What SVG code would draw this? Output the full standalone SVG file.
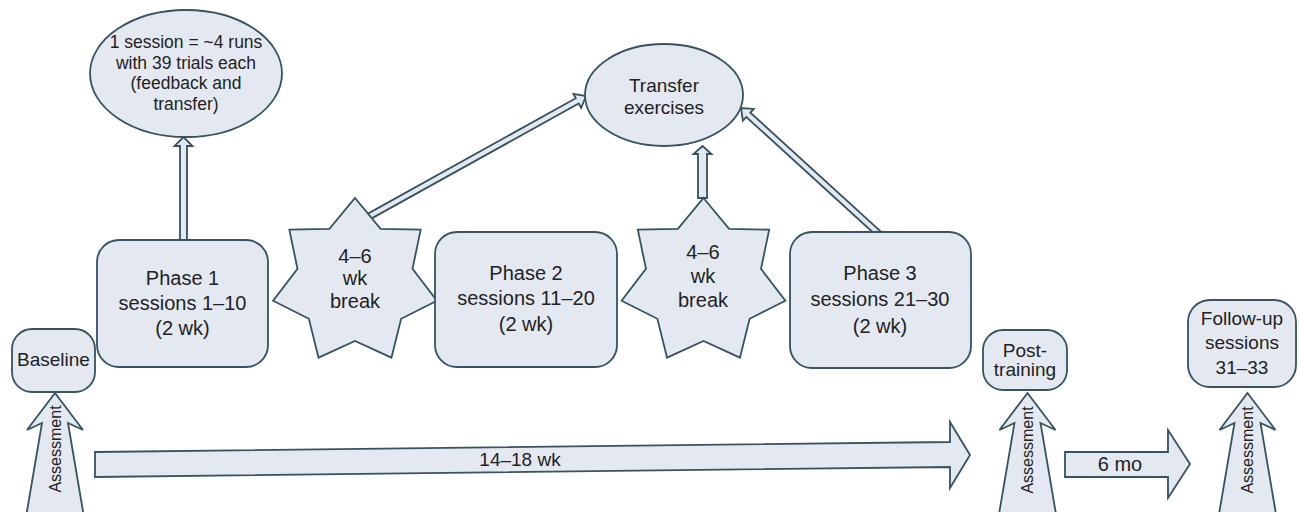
<svg xmlns="http://www.w3.org/2000/svg" xmlns:xlink="http://www.w3.org/1999/xlink" width="1299" height="512" viewBox="0 0 1299 512">
<style>
.s{fill:#e4e9f1;stroke:#36535f;stroke-width:1.8;stroke-linejoin:miter}
.t{font-family:"Liberation Sans",Arial,sans-serif;fill:#222;text-anchor:middle}
.f20{font-size:20px}.f19{font-size:19px}.f17{font-size:17.5px}.f16{font-size:16px}
</style>
<defs>
<polygon id="star" points="0,-84 25.6,-53.16 65.67,-52.37 57.52,-13.13 81.89,18.69 46.13,36.79 36.45,75.68 0,59 -36.45,75.68 -46.13,36.79 -81.89,18.69 -57.52,-13.13 -65.67,-52.37 -25.6,-53.16"/>
<polygon id="assess" points="0,393 28,430 13,423 29.5,520 -29.5,520 -13,423 -28,430"/>
</defs>
<rect width="1299" height="512" fill="#fff"/>

<g id="connectors">
<polygon class="s" points="187,240 187,146 192.5,146 183.5,137 174.5,146 180,146 180,240"/>
<polygon class="s" points="369.46,219.62 578.72,103.47 581.14,107.85 586,96 573.38,93.85 575.8,98.23 366.54,214.38"/>
<polygon class="s" points="707,198 707,154 711.5,154 702.5,146 693.5,154 698,154 698,198"/>
<polygon class="s" points="880.04,230.8 750.38,112.59 753.78,108.92 741,108 742.9,120.66 746.3,116.99 875.96,235.2"/>
<g id="timeline">
<polygon class="s" points="95,452 950,442 950,422 970,455 950,488 950,467 95,477"/>
<text class="t f19" x="520" y="466">14–18 wk</text>
</g>
<g id="six-months">
<polygon class="s" points="1065,452 1168,452 1168,430 1190,464 1168,498 1168,477 1065,477"/>
<text class="t f20" x="1120" y="471">6 mo</text>
</g>
<g id="assess-baseline">
<use href="#assess" class="s" transform="translate(55,0)"/>
<text class="t f16" transform="translate(55,449) rotate(-90)" dominant-baseline="central">Assessment</text>
</g>
<g id="assess-post">
<use href="#assess" class="s" transform="translate(1027.5,0)"/>
<text class="t f16" transform="translate(1027.5,450) rotate(-90)" dominant-baseline="central">Assessment</text>
</g>
<g id="assess-follow">
<use href="#assess" class="s" transform="translate(1247.5,0)"/>
<text class="t f16" transform="translate(1247.5,450) rotate(-90)" dominant-baseline="central">Assessment</text>
</g>
</g>

<g id="session-note">
<ellipse class="s" cx="186" cy="73.5" rx="96" ry="63.5"/>
<text class="t f17" x="186" y="48">1 session = ~4 runs</text>
<text class="t f17" x="186" y="68.5">with 39 trials each</text>
<text class="t f17" x="186" y="89">(feedback and</text>
<text class="t f17" x="186" y="109.5">transfer)</text>
</g>

<g id="transfer">
<ellipse class="s" cx="664" cy="95" rx="79" ry="51"/>
<text class="t f19" x="664" y="92">Transfer</text>
<text class="t f19" x="664" y="114">exercises</text>
</g>

<g id="baseline">
<rect class="s" x="12" y="329" width="83" height="63" rx="20"/>
<text class="t f19" x="53.5" y="366">Baseline</text>
</g>

<g id="phase1">
<rect class="s" x="97" y="240" width="171" height="127" rx="22"/>
<text class="t f20" x="182.5" y="285">Phase 1</text>
<text class="t f20" x="182.5" y="310">sessions 1–10</text>
<text class="t f20" x="182.5" y="335">(2 wk)</text>
</g>

<g id="break1">
<use href="#star" class="s" transform="translate(355,282)"/>
<text class="t f20" x="355" y="263">4–6</text>
<text class="t f20" x="355" y="285">wk</text>
<text class="t f20" x="355" y="308">break</text>
</g>

<g id="phase2">
<rect class="s" x="435" y="232" width="182" height="135" rx="22"/>
<text class="t f20" x="526" y="280">Phase 2</text>
<text class="t f20" x="526" y="305">sessions 11–20</text>
<text class="t f20" x="526" y="331">(2 wk)</text>
</g>

<g id="break2">
<use href="#star" class="s" transform="translate(703.5,282)"/>
<text class="t f20" x="703" y="259">4–6</text>
<text class="t f20" x="703" y="283">wk</text>
<text class="t f20" x="703" y="307">break</text>
</g>

<g id="phase3">
<rect class="s" x="790" y="232" width="181" height="136" rx="22"/>
<text class="t f20" x="880" y="280">Phase 3</text>
<text class="t f20" x="880" y="306">sessions 21–30</text>
<text class="t f20" x="880" y="333">(2 wk)</text>
</g>

<g id="post-training">
<rect class="s" x="983" y="330" width="84" height="60" rx="20"/>
<text class="t f19" x="1025" y="357">Post-</text>
<text class="t f19" x="1025" y="376">training</text>
</g>

<g id="follow-up">
<rect class="s" x="1188" y="300" width="108" height="87" rx="22"/>
<text class="t f19" x="1242" y="325">Follow-up</text>
<text class="t f19" x="1242" y="349">sessions</text>
<text class="t f19" x="1242" y="374">31–33</text>
</g>
</svg>
